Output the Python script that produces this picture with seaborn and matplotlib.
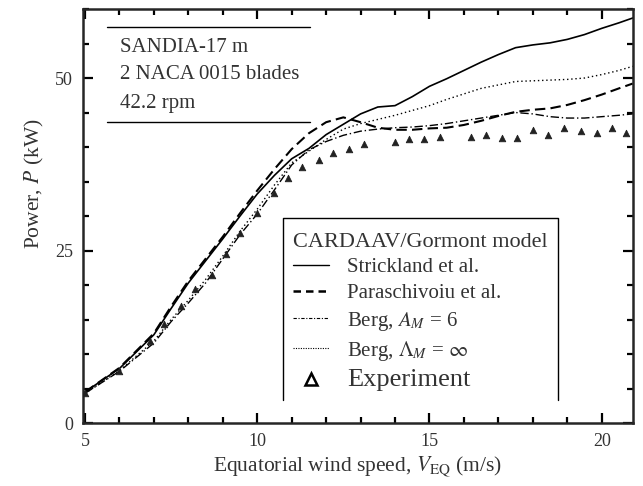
import matplotlib
matplotlib.use("Agg")
import matplotlib.pyplot as plt
from matplotlib.lines import Line2D
from matplotlib.ticker import MultipleLocator
import seaborn as sns
import pandas as pd

# wind speed grid shared by the four model curves (m/s)
x_model = [5, 6, 7, 7.5, 8, 8.5, 9, 9.5, 10, 10.5, 11, 11.5, 12, 12.5, 13,
           13.5, 14, 14.5, 15, 15.5, 16, 16.5, 17, 17.5, 18, 18.5, 19, 19.5,
           20, 20.5, 20.9]
strickland = [4.5, 7.9, 12.8, 16.6, 20.3, 23.5, 26.7, 30.0, 33.2, 35.9, 38.3,
              39.8, 41.8, 43.3, 44.8, 45.8, 46.0, 47.3, 48.8, 49.9, 51.1, 52.3,
              53.4, 54.4, 54.8, 55.1, 55.6, 56.3, 57.2, 58.0, 58.7]
paraschivoiu = [4.5, 8.0, 13.0, 16.9, 20.6, 23.8, 27.0, 30.4, 33.7, 36.8, 39.7,
                42.0, 43.6, 44.3, 43.6, 42.8, 42.5, 42.5, 42.7, 42.8, 43.2, 43.8,
                44.5, 45.1, 45.4, 45.6, 46.1, 46.8, 47.6, 48.5, 49.2]
berg_6 = [4.3, 7.5, 11.6, 14.7, 17.4, 20.3, 23.8, 27.3, 30.3, 33.8, 37.4,
          39.6, 40.8, 41.7, 42.3, 42.6, 42.8, 42.9, 43.1, 43.4, 43.8, 44.2,
          44.6, 45.0, 44.8, 44.4, 44.2, 44.2, 44.4, 44.6, 44.8]
berg_inf = [4.3, 7.6, 11.9, 15.0, 17.8, 20.8, 24.2, 27.8, 31.0, 34.5, 37.7,
            39.4, 41.1, 42.6, 43.4, 44.0, 44.6, 45.3, 46.0, 46.9, 47.7, 48.5,
            49.0, 49.5, 49.6, 49.7, 49.8, 50.0, 50.5, 51.1, 51.7]

# experimental points
x_exp = [5.0, 6.0, 6.9, 7.3, 7.8, 8.2, 8.7, 9.1, 9.5, 10.0, 10.5, 10.9, 11.3,
         11.8, 12.2, 12.65, 13.1, 14.0, 14.4, 14.85, 15.3, 16.2, 16.65, 17.1,
         17.55, 18.0, 18.45, 18.9, 19.4, 19.85, 20.3, 20.7]
p_exp = [4.3, 7.5, 11.9, 14.3, 17.0, 19.4, 21.4, 24.5, 27.6, 30.4, 33.3, 35.5,
         37.1, 38.1, 39.1, 39.7, 40.4, 40.7, 41.1, 41.1, 41.4, 41.4, 41.7, 41.3,
         41.3, 42.5, 41.8, 42.8, 42.3, 42.0, 42.8, 42.1]

labels = ["Strickland et al.", "Paraschivoiu et al.",
          "Berg, $A_M$ = 6", r"Berg, $\Lambda_M$ = $\infty$"]

frames = []
for name, vals in zip(labels, [strickland, paraschivoiu, berg_6, berg_inf]):
    frames.append(pd.DataFrame({"v": x_model, "p": vals, "model": name}))
models = pd.concat(frames, ignore_index=True)
exp = pd.DataFrame({"v": x_exp, "p": p_exp})

sns.set_style("ticks")
plt.rcParams["font.family"] = ["Liberation Serif", "DejaVu Serif"]
plt.rcParams["mathtext.fontset"] = "stix"

fig = plt.figure(figsize=(6.43, 4.86), dpi=100)
ax = fig.add_axes([0.129, 0.1296, 0.855, 0.8518])

styles = {labels[0]: "", labels[1]: (5, 2.5), labels[2]: (6, 2, 1, 2),
          labels[3]: (1, 2)}
widths = {labels[0]: 1.2, labels[1]: 1.5, labels[2]: 1.0, labels[3]: 1.0}
for name in labels:
    sub = models[models["model"] == name]
    sns.lineplot(data=sub, x="v", y="p", ax=ax, color="black",
                 lw=widths[name], dashes=False, legend=False,
                 linestyle=(0, styles[name]) if styles[name] else "-")
sns.scatterplot(data=exp, x="v", y="p", ax=ax, marker="^", s=22,
                color="#222222", edgecolor="#222222", linewidth=0.6,
                legend=False, zorder=3)

ax.set_xlim(4.94, 20.9)
ax.set_ylim(0, 60)
ax.xaxis.set_major_locator(MultipleLocator(5))
ax.xaxis.set_minor_locator(MultipleLocator(1))
ax.yaxis.set_major_locator(MultipleLocator(25))
ax.yaxis.set_minor_locator(MultipleLocator(5))
ax.tick_params(which="both", direction="in", top=True, right=True,
               width=1.6, colors="black", labelcolor="#333333",
               labelsize=13, pad=7)
ax.tick_params(which="major", length=7)
ax.tick_params(which="minor", length=4)
for s in ax.spines.values():
    s.set_linewidth(1.8)

ax.set_xlabel(r"Equatorial wind speed, $V_{\mathrm{EQ}}$ (m/s)",
              fontsize=15.5, color="#333333", labelpad=3)
ax.set_ylabel(r"Power, $P$ (kW)", fontsize=15.5, color="#333333")
ax.yaxis.set_label_coords(-0.068, 0.577)

# description box in the upper left
tr = ax.transAxes
ax.plot([0.044, 0.413], [0.957, 0.957], color="black", lw=1.0, transform=tr)
ax.plot([0.044, 0.413], [0.727, 0.727], color="black", lw=1.0, transform=tr)
for yy, txt in zip([0.908, 0.841, 0.773],
                   ["SANDIA-17 m", "2 NACA 0015 blades", "42.2 rpm"]):
    ax.text(0.067, yy, txt, transform=tr, fontsize=15, color="#333333",
            va="center", ha="left")

# legend frame (open at the bottom)
ax.plot([0.364, 0.364, 0.864, 0.864], [0.056, 0.495, 0.495, 0.056],
        color="black", lw=1.0, transform=tr)

handles = [
    Line2D([], [], color="black", lw=1.0),
    Line2D([], [], color="black", lw=1.8, linestyle=(0, (3, 2))),
    Line2D([], [], color="black", lw=0.8, linestyle=(0, (3, 1.5, 1, 1.5))),
    Line2D([], [], color="black", lw=0.8, linestyle=(0, (1, 1.2))),
    Line2D([], [], color="black", lw=0, marker="^", markersize=9,
           markerfacecolor="white", markeredgewidth=1.8),
]
leg = ax.legend(handles, labels + ["Experiment"], loc="upper left",
                bbox_to_anchor=(0.375, 0.47), frameon=False, fontsize=15,
                title="CARDAAV/Gormont model", title_fontsize=16,
                alignment="left", handlelength=1.7, handletextpad=0.9,
                labelspacing=0.3, borderaxespad=0, borderpad=0.2)
for t in leg.get_texts():
    t.set_color("#333333")
leg.get_title().set_color("#333333")
leg.get_texts()[4].set_fontsize(19)

fig.savefig("out.png", dpi=100)
